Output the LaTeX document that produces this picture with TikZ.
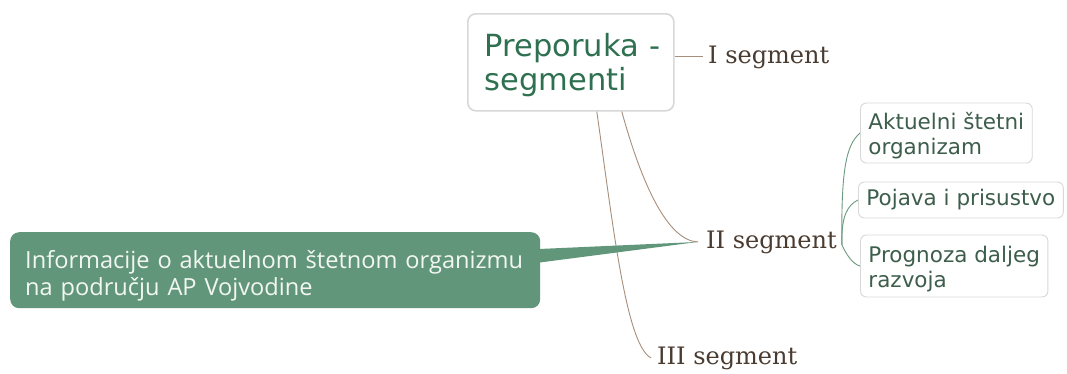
\documentclass[tikz,border=0pt]{standalone}
\usepackage{fontspec}
\setmainfont{DejaVu Sans}
\newfontfamily\segfont{DejaVu Serif}
\newfontfamily\calfont{Open Sans}
\definecolor{boxline}{HTML}{D8D8D8}
\definecolor{titlegreen}{HTML}{2E7050}
\definecolor{leafgreen}{HTML}{3E5E4C}
\definecolor{calloutfill}{HTML}{62967A}
\definecolor{brownline}{HTML}{A88E7C}
\definecolor{segtext}{HTML}{4A3B30}
\definecolor{greenline}{HTML}{6A9A80}
\definecolor{callouttext}{HTML}{F2F7F2}
\tikzset{
  centralbox/.style={draw=boxline, line width=1.6pt, rounded corners=8pt, fill=white,
    minimum width=206pt, minimum height=97pt, text width=172pt, align=left,
    inner xsep=17pt, inner ysep=0pt, text=titlegreen, font=\fontsize{30.5}{34}\selectfont},
  seglabel/.style={inner sep=0pt, anchor=base west, text=segtext,
    font=\segfont\fontsize{24}{26}\selectfont},
  leafbox/.style={draw=boxline, line width=0.9pt, rounded corners=6pt, fill=white,
    inner xsep=8pt, inner ysep=0pt, align=left, anchor=west, text=leafgreen,
    font=\fontsize{21.5}{25}\selectfont},
  calloutbox/.style={fill=calloutfill, rounded corners=9pt, minimum width=530pt,
    minimum height=76pt, text width=510pt, inner xsep=10pt, inner ysep=0pt,
    align=left, anchor=north west, text=callouttext, font=\calfont\fontsize{23.6}{27}\selectfont},
  brownlink/.style={draw=brownline, line width=0.9pt},
  greenlink/.style={draw=greenline, line width=0.9pt},
}
\begin{document}
\begin{tikzpicture}[x=1pt,y=-1pt]
\useasboundingbox (0,0) rectangle (1067,373);
\fill[white] (0,0) rectangle (1067,373);

% nodes
\node[calloutbox] (callout) at (10,232) {\rule{0pt}{30pt}\hspace*{5pt}Informacije o aktuelnom štetnom organizmu\\\hspace*{5pt}na području AP Vojvodine};
\node[centralbox, anchor=north west] (central) at (467,13) {\rule{0pt}{29.5pt}\mbox{Preporuka -}\\segmenti};
\node[seglabel] (iseg) at (708,63) {I segment};
\node[seglabel] (iiseg) at (706,248) {II segment};
\node[seglabel] (iiiseg) at (657,364) {III segment};
\node[leafbox, minimum height=60pt] (akt) at (860,133) {\rule{0pt}{22pt}Aktuelni štetni\\organizam};
\node[leafbox, minimum height=36pt] (poj) at (858,200) {Pojava i prisustvo};
\node[leafbox, minimum height=62pt] (prog) at (860,266) {\rule{0pt}{22pt}Prognoza daljeg\\razvoja};

% connectors from central topic
\draw[brownlink] (central.east |- iseg.west) -- ([xshift=-5pt]iseg.west);
\draw[brownlink] ([xshift=51pt]central.south) .. controls (642,185) and (668,241) .. ([xshift=-8pt]iiseg.west);
\draw[brownlink] ([xshift=26pt]central.south) .. controls (613,225) and (626,345) .. ([xshift=-6pt]iiiseg.west);

% callout wedge
\fill[calloutfill] ([xshift=-6pt,yshift=21pt]callout.east) -- ([xshift=-8pt]iiseg.west)
  -- ([xshift=-6pt,yshift=7pt]callout.east) -- cycle;

% subtopics of II segment
\coordinate (iifork) at ([xshift=5pt,yshift=-3pt]iiseg.east);
\draw[greenlink] (iifork) .. controls (841,170) and (846,145) .. (akt.west);
\draw[greenlink] (iifork) .. controls (841,215) and (848,205) .. (poj.west);
\draw[greenlink] (iifork) .. controls (845,252) and (852,264) .. (prog.west);
\end{tikzpicture}
\end{document}
